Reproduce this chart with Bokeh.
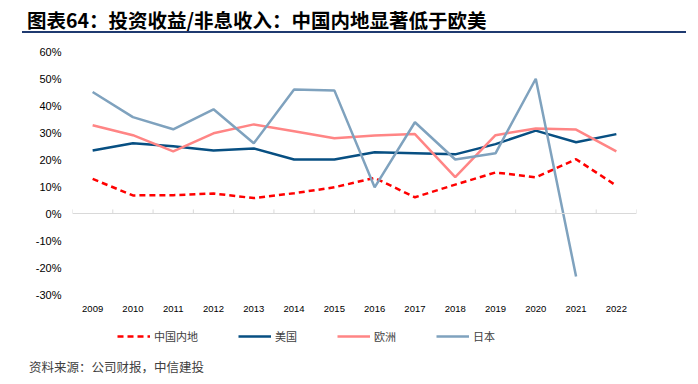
from bokeh.plotting import figure
from bokeh.layouts import column
from bokeh.models import (Range1d, FixedTicker, PrintfTickFormatter, Span, Div,
                          Legend, LegendItem)
from bokeh.embed import file_html
from bokeh.resources import INLINE

years = ["2009", "2010", "2011", "2012", "2013", "2014", "2015",
         "2016", "2017", "2018", "2019", "2020", "2021", "2022"]
china = [12.8, 6.7, 6.8, 7.4, 5.7, 7.5, 9.7, 13.2, 6.0, 10.7, 15.2, 13.4, 20.1, 10.3]
usa = [23.3, 26.0, 24.9, 23.3, 24.1, 20.0, 20.0, 22.7, 22.3, 21.9, 25.7, 30.7, 26.4, 29.4]
europe = [32.7, 29.0, 23.0, 29.7, 33.0, 30.5, 27.9, 28.9, 29.4, 13.5, 29.0, 31.5, 31.1, 23.0]
japan = [45.0, 35.7, 31.2, 38.6, 26.0, 45.9, 45.6, 9.7, 33.8, 20.0, 22.3, 49.9, -23.3]
y_ticks = [-30, -20, -10, 0, 10, 20, 30, 40, 50, 60]

series_names = ["中国内地", "美国", "欧洲", "日本"]
series_colors = ["#FF0000", "#074F82", "#FF8585", "#7FA2BE"]
series_dash = ["6 4", "solid", "solid", "solid"]

title_text = "图表64：投资收益/非息收入：中国内地显著低于欧美"
source_text = "资料来源：公司财报，中信建投"

x_idx = list(range(len(years)))
series_values = [china, usa, europe, japan]

title_div = Div(width=698, height=34, margin=0, text=(
    '<div style="position:relative;width:698px;height:34px;">'
    '<div style="position:absolute;left:27px;top:9px;white-space:nowrap;'
    'font-family:\'Noto Sans CJK SC\';font-weight:bold;font-size:19.5px;line-height:22px;color:#000;">'
    + title_text + '</div>'
    '<div style="position:absolute;left:22px;top:31px;width:664px;height:2px;background:#1F3A70;"></div>'
    '</div>'))

p = figure(width=698, height=288, output_backend="svg", toolbar_location=None,
           x_range=Range1d(-0.5, len(years) - 0.5), y_range=Range1d(-30, 60),
           min_border_left=72, min_border_right=62, min_border_top=17,
           min_border_bottom=28, margin=0)
p.outline_line_color = None
p.grid.visible = False

p.xaxis.ticker = FixedTicker(ticks=x_idx)
p.xaxis.major_label_overrides = {i: y for i, y in enumerate(years)}
p.xaxis.axis_line_color = None
p.xaxis.major_tick_line_color = None
p.xaxis.minor_tick_line_color = None
p.xaxis.major_tick_out = 0
p.xaxis.major_tick_in = 0
p.xaxis.major_label_standoff = 11
p.xaxis.major_label_text_font = "Liberation Sans Narrow, Liberation Sans"
p.xaxis.major_label_text_font_size = "9.5px"
p.xaxis.major_label_text_color = "#000000"

p.yaxis.ticker = FixedTicker(ticks=y_ticks)
p.yaxis.formatter = PrintfTickFormatter(format="%d%%")
p.yaxis.axis_line_color = None
p.yaxis.major_tick_line_color = None
p.yaxis.minor_tick_line_color = None
p.yaxis.major_tick_out = 0
p.yaxis.major_tick_in = 0
p.yaxis.major_label_standoff = 11
p.yaxis.major_label_text_font = "Liberation Sans"
p.yaxis.major_label_text_font_size = "11px"
p.yaxis.major_label_text_color = "#000000"

p.add_layout(Span(location=0, dimension="width", line_color="#D9D9D9", line_width=1))
bounds = [i - 0.5 for i in range(len(years) + 1)]
p.segment(x0=bounds, x1=bounds, y0=[0] * len(bounds), y1=[1.5] * len(bounds),
          line_color="#D9D9D9", line_width=1)

for vals, col, dash in zip(series_values, series_colors, series_dash):
    p.line(x_idx[:len(vals)], vals, line_color=col, line_width=2.5, line_dash=dash)

# legend strip (frame aligned with the main plot's frame by the column layout)
lg = figure(width=698, height=28, output_backend="svg", toolbar_location=None,
            min_border=0, margin=0, x_axis_type=None, y_axis_type=None,
            x_range=Range1d(100, 101), y_range=Range1d(100, 101))
lg.outline_line_color = None
lg.grid.visible = False
lg_renderers = []
for vals, col, dash in zip(series_values, series_colors, series_dash):
    # single-point lines: nothing drawn in the strip, only their legend glyphs
    lg_renderers.append(lg.line(x=x_idx[:1], y=vals[:1], line_color=col,
                                line_width=2.5, line_dash=dash))
legend = Legend(items=[LegendItem(label=n, renderers=[r]) for n, r in zip(series_names, lg_renderers)],
                orientation="horizontal", location=(45, 6),
                glyph_width=33, glyph_height=12, label_standoff=4, spacing=40,
                padding=0, margin=0, border_line_color=None, background_fill_alpha=0,
                label_text_font="Noto Sans CJK SC", label_text_font_size="11px",
                label_text_color="#404040", label_height=12)
lg.add_layout(legend, "center")

source_div = Div(width=698, height=34, margin=0, text=(
    '<div style="position:relative;width:698px;height:34px;">'
    '<div style="position:absolute;left:29px;top:9px;white-space:nowrap;'
    'font-family:\'Noto Sans CJK SC\';font-size:12.5px;line-height:16px;color:#404040;">'
    + source_text + '</div></div>'))

layout = column(title_div, p, lg, source_div, spacing=0, margin=0)
open("out.html", "w").write(file_html(layout, INLINE))
